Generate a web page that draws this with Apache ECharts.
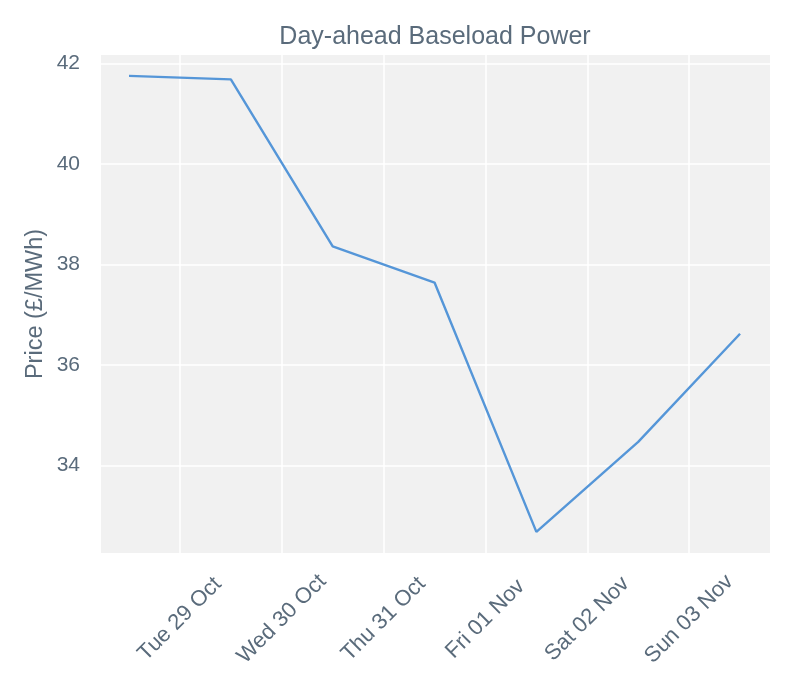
<!DOCTYPE html>
<html>
<head>
<meta charset="utf-8">
<script src="https://cdn.jsdelivr.net/npm/echarts@6/dist/echarts.min.js"></script>
<style>html,body{margin:0;padding:0;background:#fff}#c{width:800px;height:700px}</style>
</head>
<body>
<div id="c"></div>
<script>
const dates = ['2024-10-28T12:00:00','2024-10-29T12:00:00','2024-10-30T12:00:00','2024-10-31T12:00:00','2024-11-01T12:00:00','2024-11-02T12:00:00','2024-11-03T12:00:00'];
const prices = [41.75, 41.68, 38.36, 37.64, 32.68, 34.47, 36.62];
const tickDates = ['2024-10-29T00:00:00','2024-10-30T00:00:00','2024-10-31T00:00:00','2024-11-01T00:00:00','2024-11-02T00:00:00','2024-11-03T00:00:00'];
const tickLabels = ['Tue 29 Oct','Wed 30 Oct','Thu 31 Oct','Fri 01 Nov','Sat 02 Nov','Sun 03 Nov'];
const yTicks = [34, 36, 38, 40, 42];

const BASE = '2024-10-28T00:00:00';
// convert a date string to days since BASE (axis unit)
const day = s => Math.round((new Date(s).getTime() - new Date(BASE).getTime()) / 3600000) / 24;
const tickDays = tickDates.map(day);
const textColor = '#5a6b7b';
const font = 'Liberation Sans, Arial, sans-serif';

const chart = echarts.init(document.getElementById('c'), null, {renderer: 'canvas'});
chart.setOption({
  animation: false,
  backgroundColor: '#ffffff',
  title: {
    text: 'Day-ahead Baseload Power',
    left: 430, top: 20, textAlign: 'center',
    textStyle: {color: textColor, fontSize: 25, fontWeight: 'normal', fontFamily: font}
  },
  grid: {left: 101, right: 30, top: 55, bottom: 147, show: true, backgroundColor: '#f1f1f1', borderWidth: 0, containLabel: false},
  xAxis: {
    type: 'value',
    min: day(dates[0]) - 0.275,
    max: day(dates[dates.length - 1]) + 0.294,
    axisLine: {show: false},
    axisTick: {show: false, customValues: tickDays},
    splitLine: {show: true, lineStyle: {color: '#ffffff', width: 1.6}},
    axisLabel: {
      customValues: tickDays,
      rotate: 45, align: 'center', verticalAlign: 'middle', margin: 66,
      color: textColor, fontSize: 22, fontFamily: font,
      formatter: v => { const i = tickDays.indexOf(v); return i >= 0 ? tickLabels[i] : ''; }
    }
  },
  yAxis: {
    type: 'value',
    min: 32.26, max: 42.165,
    name: 'Price (£/MWh)', nameLocation: 'middle', nameGap: 53, nameMoveOverlap: false,
    nameTextStyle: {color: textColor, fontSize: 23.5, fontFamily: font},
    axisLine: {show: false},
    axisTick: {show: false, customValues: yTicks},
    splitLine: {show: true, lineStyle: {color: '#ffffff', width: 1.6}},
    axisLabel: {customValues: yTicks, color: textColor, fontSize: 21, fontFamily: font, margin: 21}
  },
  series: [{
    type: 'line',
    data: dates.map((d, i) => [day(d), prices[i]]),
    showSymbol: false,
    lineStyle: {color: '#5596d8', width: 2.4},
    itemStyle: {color: '#5596d8'}
  }]
});
</script>
</body>
</html>
